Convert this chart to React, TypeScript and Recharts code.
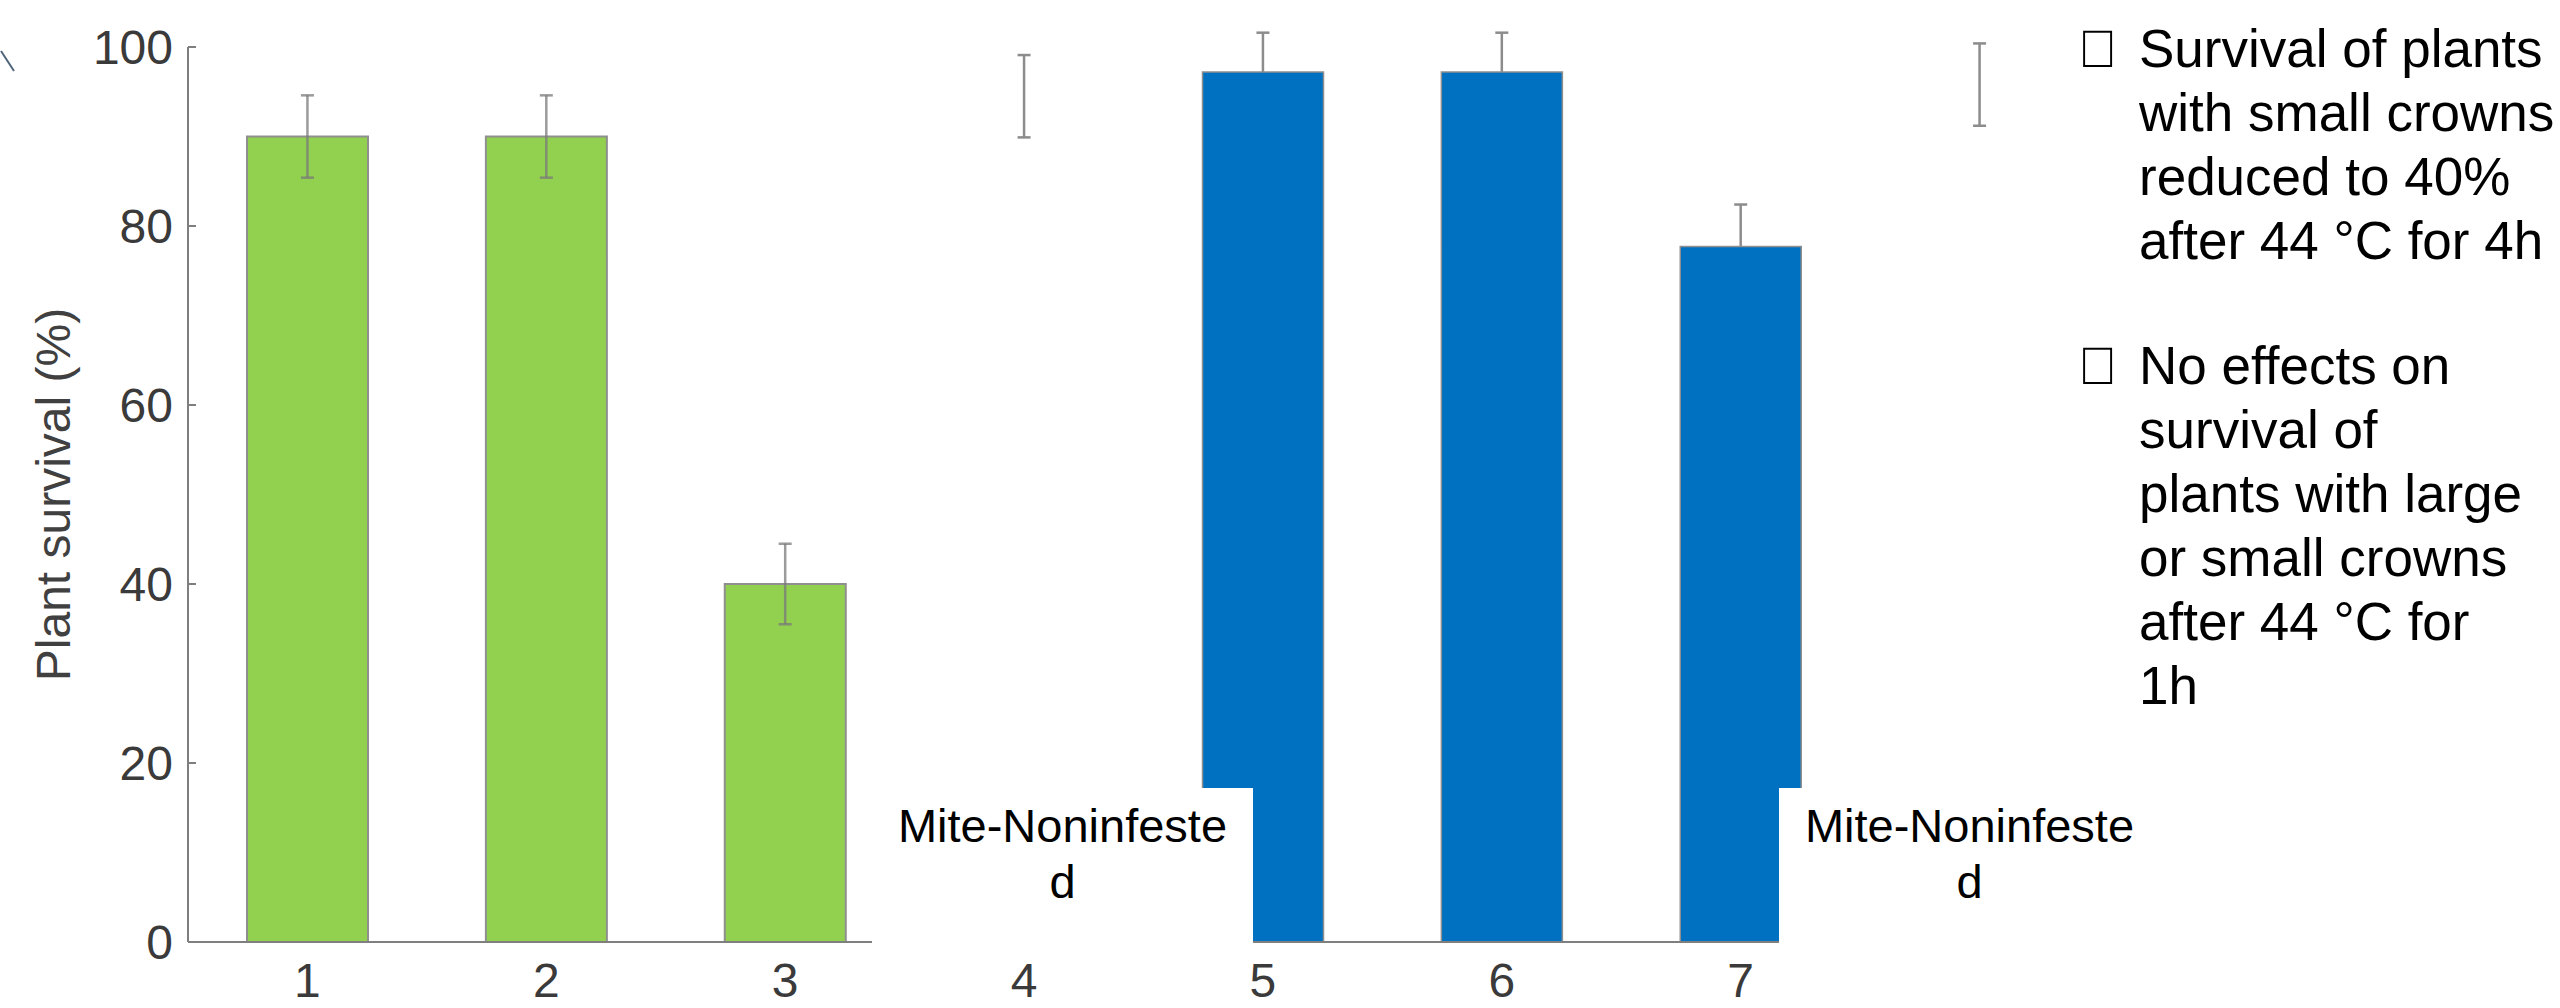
import React from "react";
import { ComposedChart, Bar, Line, XAxis, YAxis, ErrorBar } from "recharts";

const FONT = '"Liberation Sans", Arial, sans-serif';

// groups along the x axis (the 8th slot carries only an error bar)
const groups = ["1", "2", "3", "4", "5", "6", "7", "8"];
const tickLabels = ["1", "2", "3", "4", "5", "6", "7", ""];
// small crowns (green) and large crowns (blue), % survival
const smallCrown = [90, 90, 40, null, null, null, null, null];
const largeCrown = [null, null, null, null, 97.2, 97.2, 77.7, null];
// means and standard errors used for the whiskers
const means = [90, 90, 40, 94.5, 97.2, 97.2, 77.7, 95.8];
const stdErr = [4.6, 4.6, 4.5, 4.6, 4.4, 4.4, 4.7, 4.6];
const yTicks = [0, 20, 40, 60, 80, 100];

const bulletOne = ["Survival of plants", "with small crowns", "reduced to 40%", "after 44 °C for 4h"];
const bulletTwo = ["No effects on", "survival of", "plants with large", "or small crowns", "after 44 °C for", "1h"];

// whiskers of the green bars sit on top of the bars, the others sit behind
const rows = groups.map((g, i) => ({
  group: g,
  small: smallCrown[i],
  large: largeCrown[i],
  frontMean: i < 3 ? means[i] : undefined,
  frontErr: i < 3 ? stdErr[i] : undefined,
  backMean: i >= 3 ? means[i] : undefined,
  backErr: i >= 3 ? stdErr[i] : undefined,
}));

const axisStyle = { stroke: "#7f7f7f", strokeWidth: 2 };
const tickStyle = { fontSize: 48, fill: "#3a3a3a", fontFamily: FONT };

// eslint-disable-next-line @typescript-eslint/no-explicit-any
const YTitle = (props: any) => {
  const vb = props.viewBox || { x: 0, y: 0, width: 0, height: 0 };
  const bx = vb.x + 70;
  const cy = vb.y + vb.height / 2;
  return (
    <text
      x={bx}
      y={cy}
      transform={`rotate(-90 ${bx} ${cy})`}
      textAnchor="middle"
      fontSize={48}
      fill="#404040"
      fontFamily={FONT}
    >
      Plant survival (%)
    </text>
  );
};

const labelBox = (left: number): React.CSSProperties => ({
  position: "absolute",
  left,
  top: 788,
  width: 381,
  height: 159,
  background: "#fff",
  textAlign: "center",
  fontFamily: FONT,
  fontSize: 47,
  lineHeight: "56px",
  color: "#000",
  paddingTop: 10,
  boxSizing: "border-box",
});

const Bullet = ({ lines, top }: { lines: string[]; top: number }) => (
  <div
    style={{
      position: "absolute",
      left: 2078,
      top,
      display: "flex",
      fontFamily: FONT,
      fontSize: 53,
      lineHeight: "64px",
      color: "#000",
      whiteSpace: "nowrap",
    }}
  >
    <span style={{ width: 61, display: "inline-block" }}>{"\uF0A7"}</span>
    <div>
      {lines.map((l) => (
        <div key={l}>{l}</div>
      ))}
    </div>
  </div>
);

export default function App() {
  return (
    <div style={{ position: "absolute", left: 0, top: 0, width: 2560, height: 1008, background: "#fff", overflow: "hidden" }}>
      <ComposedChart
        width={2560}
        height={1008}
        data={rows}
        margin={{ top: 47, right: 461, left: 0, bottom: 6 }}
        barSize={121}
      >
        <XAxis
          dataKey="group"
          interval={0}
          height={60}
          tickLine={false}
          tickSize={0}
          tickMargin={21}
          axisLine={axisStyle}
          tick={tickStyle}
          tickFormatter={(_v: string, i: number) => tickLabels[i]}
        />
        <YAxis
          domain={[0, 100]}
          ticks={yTicks}
          allowDataOverflow
          width={188}
          tickSize={-8}
          tickMargin={23}
          tickLine={axisStyle}
          axisLine={axisStyle}
          tick={tickStyle}
          label={<YTitle />}
        />
        <Line dataKey="backMean" stroke="none" dot={false} activeDot={false} isAnimationActive={false} zIndex={50}>
          <ErrorBar dataKey="backErr" width={6.5} stroke="#8c8c8c" strokeWidth={2.5} zIndex={50} />
        </Line>
        <Bar dataKey="small" stackId="s" fill="#92D050" stroke="#8f8f8f" strokeWidth={2} isAnimationActive={false} />
        <Bar dataKey="large" stackId="s" fill="#0070C0" stroke="#8f8f8f" strokeWidth={1.5} isAnimationActive={false} />
        <Line dataKey="frontMean" stroke="none" dot={false} activeDot={false} isAnimationActive={false} zIndex={700}>
          <ErrorBar dataKey="frontErr" width={6.5} stroke="#7a7a7a" strokeOpacity={0.75} strokeWidth={2.5} zIndex={700} />
        </Line>
      </ComposedChart>

      <svg style={{ position: "absolute", left: 0, top: 50 }} width={16} height={24}>
        <line x1={1} y1={1} x2={14} y2={21} stroke="#50657a" strokeWidth={2} />
      </svg>

      <div style={labelBox(872)}>
        Mite-Noninfeste
        <br />d
      </div>
      <div style={labelBox(1779)}>
        Mite-Noninfeste
        <br />d
      </div>

      <Bullet lines={bulletOne} top={17} />
      <Bullet lines={bulletTwo} top={334} />
    </div>
  );
}
